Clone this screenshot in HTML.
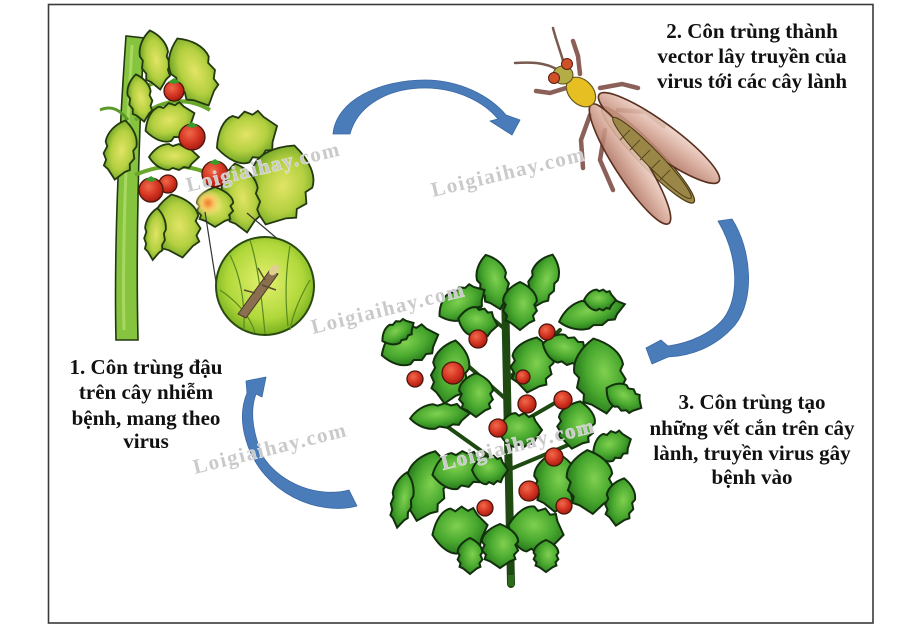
<!DOCTYPE html>
<html><head><meta charset="utf-8">
<style>html,body{margin:0;padding:0;background:#fff;}svg{display:block}</style>
</head><body>
<svg width="915" height="630" viewBox="0 0 915 630" xmlns="http://www.w3.org/2000/svg">
<defs>
<radialGradient id="lg" cx="50%" cy="45%" r="60%">
<stop offset="0" stop-color="#e2e466"/><stop offset="0.55" stop-color="#b4d040"/><stop offset="1" stop-color="#5e9a20"/>
</radialGradient>
<radialGradient id="rg" cx="45%" cy="40%" r="65%">
<stop offset="0" stop-color="#80d050"/><stop offset="0.55" stop-color="#48a82e"/><stop offset="1" stop-color="#22701a"/>
</radialGradient>
<radialGradient id="mg" cx="50%" cy="45%" r="55%">
<stop offset="0" stop-color="#e4f070"/><stop offset="0.7" stop-color="#b0d83a"/><stop offset="1" stop-color="#78b020"/>
</radialGradient>
<radialGradient id="glow" cx="50%" cy="50%" r="50%">
<stop offset="0" stop-color="#f07a30"/><stop offset="0.45" stop-color="#f8c860"/><stop offset="1" stop-color="#f8e890" stop-opacity="0"/>
</radialGradient>
<radialGradient id="tom" cx="40%" cy="35%" r="65%">
<stop offset="0" stop-color="#f06a4a"/><stop offset="0.6" stop-color="#d43422"/><stop offset="1" stop-color="#a81e12"/>
</radialGradient>
<linearGradient id="wing" x1="0" y1="0" x2="0" y2="1">
<stop offset="0" stop-color="#eed2c6"/><stop offset="0.5" stop-color="#d4a493"/><stop offset="1" stop-color="#b07462"/>
</linearGradient>
<path id="lf" d="M-20,0 C-16,-8 -10,-13 -4,-13 L-1,-11 L4,-13 L8,-10 L12,-11 L14,-7 L20,0 L14,7 L12,11 L8,10 L4,13 L-1,11 L-4,13 C-10,13 -16,8 -20,0 Z" vector-effect="non-scaling-stroke"/>
</defs>

<rect x="0" y="0" width="915" height="630" fill="#fff"/>
<rect x="48.5" y="4.5" width="824.5" height="618.5" fill="none" stroke="#3a3a3a" stroke-width="1.6"/>

<!-- LEFT PLANT -->
<g stroke="#24380e" stroke-width="1.6">
<path d="M116,340 C114,250 118,150 126,36 L144,38 C138,150 136,250 138,340 Z" fill="#86c440"/>
<path d="M124,330 C122,250 126,150 132,45" stroke="#a8d860" stroke-width="3" fill="none"/>
<path d="M135,120 C160,100 185,95 210,110" fill="none" stroke="#6aa82c" stroke-width="4"/>
<path d="M135,175 C170,160 200,165 230,185" fill="none" stroke="#6aa82c" stroke-width="4"/>
<path d="M140,90 C160,80 175,70 190,60" fill="none" stroke="#6aa82c" stroke-width="4"/>
<path d="M100,110 C112,105 120,110 128,120" fill="none" stroke="#5a9a28" stroke-width="3"/>
</g>
<g stroke="#24380e" stroke-width="1.8" fill="url(#lg)">
<use href="#lf" transform="translate(155,60) rotate(80) scale(1.5,1.1)"/>
<use href="#lf" transform="translate(193,72) rotate(65) scale(1.85,1.6)"/>
<use href="#lf" transform="translate(120,150) rotate(100) scale(1.5,1.2)"/>
<use href="#lf" transform="translate(140,98) rotate(80) scale(1.2,0.9)"/>
<use href="#lf" transform="translate(170,122) rotate(-20) scale(1.3,1.4)"/>
<use href="#lf" transform="translate(247,137) rotate(-20) scale(1.6,1.9)"/>
<use href="#lf" transform="translate(174,157) rotate(0) scale(1.25,1.0)"/>
<use href="#lf" transform="translate(280,185) rotate(110) scale(2.1,2.4)"/>
<use href="#lf" transform="translate(241,198) rotate(80) scale(1.75,1.4)"/>
<use href="#lf" transform="translate(177,226) rotate(80) scale(1.6,1.75)"/>
<use href="#lf" transform="translate(155,234) rotate(95) scale(1.3,0.8)"/>
<use href="#lf" transform="translate(215,207) rotate(90) scale(1.0,1.4)"/>
</g>
<g fill="url(#tom)" stroke="#4a160a" stroke-width="1.3">
<circle cx="174" cy="91" r="10"/>
<circle cx="192" cy="137" r="13"/>
<circle cx="168" cy="184" r="9"/>
<circle cx="151" cy="190" r="12"/>
<circle cx="215" cy="174" r="13"/>
</g>
<g fill="#3a9a2a"><path d="M168,82 l6,-4 l6,4 l-6,2z"/><path d="M186,126 l6,-4 l6,4 l-6,2z"/><path d="M209,163 l6,-4 l6,4 l-6,2z"/><path d="M145,180 l6,-4 l6,4 l-6,2z"/></g>
<circle cx="208" cy="203" r="14" fill="url(#glow)"/>
<line x1="205" y1="212" x2="216" y2="282" stroke="#333" stroke-width="1.2"/>
<line x1="247" y1="213" x2="280" y2="241" stroke="#333" stroke-width="1.2"/>
<circle cx="265" cy="286" r="49" fill="url(#mg)" stroke="#2a4a10" stroke-width="2"/>
<g stroke="#5a8a20" stroke-width="1.2" fill="none">
<path d="M230,255 C240,275 245,300 244,330"/>
<path d="M250,240 C258,265 262,300 265,334"/>
<path d="M290,246 C285,275 285,300 288,326"/>
<path d="M220,290 C235,300 250,315 255,333"/>
<path d="M310,280 C298,300 292,318 290,330"/>
</g>
<path d="M238,314 L270,270 L278,274 L246,318 Z" fill="#8a7050" stroke="#4a3a28" stroke-width="1"/>
<ellipse cx="274" cy="270" rx="6" ry="4" transform="rotate(-50 274 270)" fill="#e0d090"/>
<g stroke="#5a4a30" stroke-width="1.5"><line x1="255" y1="293" x2="244" y2="290"/><line x1="262" y1="285" x2="276" y2="290"/><line x1="265" y1="280" x2="258" y2="268"/></g>

<!-- INSECT -->
<g stroke="#8a6058" stroke-width="4.5" stroke-linecap="round" fill="none">
<path d="M566,88 L550,93 L536,91"/>
<path d="M580,74 L578,56 L573,41"/>
<path d="M600,88 L622,84 L638,88"/>
<path d="M618,110 L646,112 L664,126"/>
<path d="M590,115 L581,140 L583,168"/>
<path d="M605,130 L600,160 L613,190"/>
</g>
<g stroke="#7a5a50" stroke-width="2.5" fill="none" stroke-linecap="round">
<path d="M558,70 C545,62 530,62 515,63"/>
<path d="M564,64 C560,50 556,40 553,28"/>
</g>
<ellipse cx="648" cy="155" rx="66" ry="11" transform="rotate(46 648 155)" fill="#a08a48" stroke="#4a3a1a" stroke-width="1.2"/>
<g stroke="#5a3020" stroke-width="1.6" fill-opacity="0.88">
<ellipse cx="659" cy="138" rx="74" ry="16" transform="rotate(36 659 138)" fill="url(#wing)"/>
<ellipse cx="630" cy="164" rx="71" ry="15" transform="rotate(57 630 164)" fill="url(#wing)"/>
</g>
<ellipse cx="652" cy="158" rx="56" ry="8" transform="rotate(46 652 158)" fill="#9a8646" stroke="#4a3a1a" stroke-width="1"/>
<g stroke="#5a4a22" stroke-width="1">
<line x1="620" y1="140" x2="630" y2="130"/><line x1="630" y1="150" x2="640" y2="140"/><line x1="640" y1="160" x2="650" y2="150"/><line x1="650" y1="170" x2="660" y2="160"/><line x1="660" y1="180" x2="670" y2="170"/>
</g>
<ellipse cx="581" cy="92" rx="17" ry="12" transform="rotate(46 581 92)" fill="#e6c022" stroke="#6a5a20" stroke-width="1.2"/>
<ellipse cx="563" cy="75" rx="10" ry="9" fill="#b4ac44" stroke="#5a5020" stroke-width="1"/>
<circle cx="554" cy="78" r="5.5" fill="#d05028" stroke="#5a2010" stroke-width="1"/>
<circle cx="567" cy="64" r="5.5" fill="#d05028" stroke="#5a2010" stroke-width="1"/>

<!-- RIGHT PLANT -->
<g stroke="#1e4a12" fill="none" stroke-linecap="round">
<path d="M511,584 C509,500 507,400 505,290" stroke-width="8"/>
<path d="M508,470 L445,425" stroke-width="4"/>
<path d="M508,470 L580,440" stroke-width="4"/>
<path d="M507,380 L560,330" stroke-width="4"/>
<path d="M507,400 L450,350" stroke-width="4"/>
<path d="M508,430 L560,400" stroke-width="4"/>
<path d="M506,330 L470,300" stroke-width="4"/>
</g>
<g stroke="#13300c" stroke-width="2" fill="url(#rg)">
<use href="#lf" transform="translate(493,282) rotate(75) scale(1.4,1.15)"/>
<use href="#lf" transform="translate(543,281) rotate(110) scale(1.4,1.05)"/>
<use href="#lf" transform="translate(462,303) rotate(-30) scale(1.3,1.15)"/>
<use href="#lf" transform="translate(520,306) rotate(90) scale(1.2,1.3)"/>
<use href="#lf" transform="translate(592,313) rotate(-15) scale(1.7,1.1)"/>
<use href="#lf" transform="translate(600,300) rotate(0) scale(0.8,0.8)"/>
<use href="#lf" transform="translate(410,345) rotate(-20) scale(1.5,1.4)"/>
<use href="#lf" transform="translate(398,332) rotate(-30) scale(0.9,0.8)"/>
<use href="#lf" transform="translate(450,372) rotate(100) scale(1.6,1.4)"/>
<use href="#lf" transform="translate(478,322) rotate(10) scale(1.0,1.1)"/>
<use href="#lf" transform="translate(532,365) rotate(100) scale(1.4,1.6)"/>
<use href="#lf" transform="translate(566,350) rotate(15) scale(1.2,1.1)"/>
<use href="#lf" transform="translate(600,376) rotate(80) scale(1.9,1.9)"/>
<use href="#lf" transform="translate(624,398) rotate(30) scale(1.0,0.95)"/>
<use href="#lf" transform="translate(476,395) rotate(90) scale(1.1,1.3)"/>
<use href="#lf" transform="translate(440,416) rotate(-5) scale(1.5,0.95)"/>
<use href="#lf" transform="translate(520,430) rotate(0) scale(1.1,1.3)"/>
<use href="#lf" transform="translate(576,425) rotate(100) scale(1.2,1.4)"/>
<use href="#lf" transform="translate(612,446) rotate(-20) scale(1.0,1.1)"/>
<use href="#lf" transform="translate(426,486) rotate(105) scale(1.8,1.6)"/>
<use href="#lf" transform="translate(460,470) rotate(-10) scale(1.4,1.4)"/>
<use href="#lf" transform="translate(402,500) rotate(100) scale(1.4,0.8)"/>
<use href="#lf" transform="translate(555,482) rotate(90) scale(1.5,1.6)"/>
<use href="#lf" transform="translate(590,482) rotate(85) scale(1.6,1.75)"/>
<use href="#lf" transform="translate(620,502) rotate(100) scale(1.2,1.1)"/>
<use href="#lf" transform="translate(490,470) rotate(0) scale(0.9,1.1)"/>
<use href="#lf" transform="translate(460,530) rotate(-10) scale(1.4,1.75)"/>
<use href="#lf" transform="translate(536,530) rotate(10) scale(1.4,1.75)"/>
<use href="#lf" transform="translate(500,546) rotate(90) scale(1.1,1.4)"/>
<use href="#lf" transform="translate(470,556) rotate(90) scale(0.9,0.95)"/>
<use href="#lf" transform="translate(546,556) rotate(90) scale(0.8,0.95)"/>
</g>
<path d="M511,575 L511,586" stroke="#2a6a1a" stroke-width="6"/>
<g fill="url(#tom)" stroke="#4a160a" stroke-width="1.3">
<circle cx="478" cy="339" r="9"/>
<circle cx="453" cy="373" r="11"/>
<circle cx="415" cy="379" r="8"/>
<circle cx="523" cy="377" r="7"/>
<circle cx="547" cy="332" r="8"/>
<circle cx="527" cy="404" r="9"/>
<circle cx="563" cy="400" r="9"/>
<circle cx="498" cy="428" r="9"/>
<circle cx="554" cy="457" r="9"/>
<circle cx="529" cy="491" r="10"/>
<circle cx="564" cy="506" r="8"/>
<circle cx="485" cy="508" r="8"/>
</g>

<!-- ARROWS -->
<g fill="#4a7cba" stroke="#3a68a4" stroke-width="0.8" stroke-linejoin="round">
<path d="M333,134 C336,100 380,80 425,80 C460,80 490,96 506,115 L520,120 L512,135 L490,121 L498,119 C485,103 458,88 425,88 C390,88 358,104 350,134 Z"/>
<path d="M732,219 C752,250 755,300 735,325 C715,348 690,356 668,357 L652,364 L646,348 L661,340 L668,346 C690,343 712,333 724,318 C740,295 738,255 718,221 Z"/>
<path d="M357,506 C320,516 262,495 246,440 C240,420 242,405 247,393 L246,381 L266,377 L262,397 L256,394 C250,410 252,430 262,455 C280,485 320,498 349,490 Z"/>
</g>

<!-- WATERMARKS -->
<g font-family="Liberation Serif, serif" font-weight="bold" font-size="21" letter-spacing="1.5" fill="#cacaca" stroke="#fff" stroke-width="0.6" paint-order="stroke">
<text transform="translate(188,192) rotate(-13.5)">Loigiaihay.com</text>
<text transform="translate(433,197) rotate(-13.5)">Loigiaihay.com</text>
<text transform="translate(313,334) rotate(-14)">Loigiaihay.com</text>
<text transform="translate(195,474) rotate(-14)">Loigiaihay.com</text>
<text transform="translate(443,470) rotate(-14)">Loigiaihay.com</text>
</g>

<!-- LABELS -->
<g font-family="Liberation Serif, serif" font-weight="bold" font-size="21" fill="#111" text-anchor="middle">
<text x="146" y="374">1. Côn trùng đậu</text>
<text x="146" y="399">trên cây nhiễm</text>
<text x="146" y="425">bệnh, mang theo</text>
<text x="146" y="448">virus</text>
<text x="752" y="38">2. Côn trùng thành</text>
<text x="752" y="63">vector lây truyền của</text>
<text x="752" y="88">virus tới các cây lành</text>
<text x="752" y="409">3. Côn trùng tạo</text>
<text x="752" y="435">những vết cắn trên cây</text>
<text x="752" y="460">lành, truyền virus gây</text>
<text x="752" y="484">bệnh vào</text>
</g>
</svg>
</body></html>
